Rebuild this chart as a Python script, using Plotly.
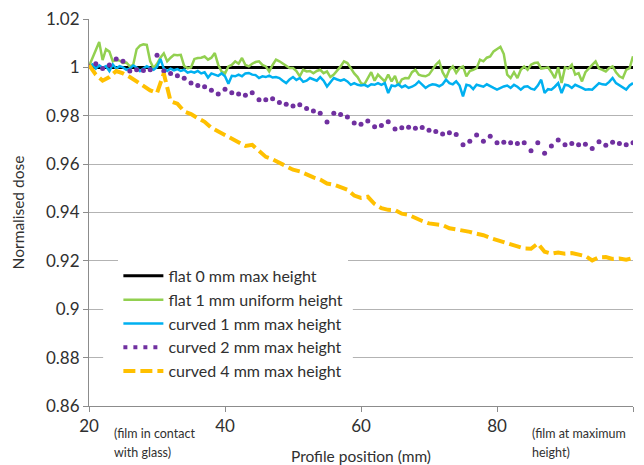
import plotly.graph_objects as go

# ---------------- data ----------------
x_half = [20 + 0.5 * i for i in range(161)]   # 20.0 .. 100.0 step 0.5
x_one = list(range(20, 101))                  # 20 .. 100 step 1

flat0 = [1.0] * 81

flat1 = [
    1.0005, 1.004, 1.007, 1.0105, 1.003, 1.0075, 1.0065, 1.0025, 1.003, 1.0028,
    1.0018, 1.002, 1.0004, 1.001, 1.0075, 1.009, 1.0095, 1.0093, 1.0025, 0.9997,
    1.0015, 1.004, 1.0058, 1.0025, 1.004, 1.0052, 1.005, 1.0052, 1.0005, 0.9997,
    1.0, 1.0035, 1.0039, 1.004, 1.0045, 1.0032, 1.004, 1.0059, 1.0011, 0.9983,
    0.9975, 1.0004, 1.001, 1.0025, 1.0015, 1.0039, 1.001, 1.0004, 1.0015, 1.0022,
    1.0025, 1.001, 1.0004, 0.9983, 1.001, 1.0032, 1.0025, 1.0015, 1.0004, 0.9997,
    0.9997, 0.9985, 0.9963, 0.999, 0.9983, 0.9985, 0.9976, 0.9985, 0.999, 0.9976,
    0.9983, 0.996, 0.997, 0.9985, 1.0004, 1.0025, 1.0018, 0.9997, 0.9975, 0.996,
    0.9935, 0.993, 0.9955, 0.998, 0.9945, 0.997, 0.9956, 0.9942, 0.997, 0.9942,
    0.9965, 0.9925, 0.995, 0.9956, 0.9955, 0.998, 0.999, 0.997, 0.9965, 0.9963,
    0.997, 0.999, 1.0011, 1.0025, 0.998, 0.9956, 0.999, 1.0004, 0.9977, 0.9997,
    1.0004, 0.9963, 0.9985, 0.999, 0.9997, 1.0032, 1.0025, 1.004, 1.0045, 1.0066,
    1.0075, 1.0085, 1.0055, 0.997, 0.9956, 0.998, 0.9956, 0.999, 1.0004, 0.999,
    1.0011, 1.0018, 1.002, 0.9995, 0.9997, 1.0, 0.998, 0.9956, 1.0, 0.9935,
    1.0, 0.9995, 1.0011, 0.997, 0.9976, 0.9942, 0.998, 0.9997, 1.001, 1.0025,
    0.9995, 0.999, 0.9983, 0.9997, 1.0004, 0.998, 0.9963, 0.9956, 0.999, 0.9997,
    1.0046,
]

curved1 = [
    1.0, 1.0012, 0.9995, 1.0008, 0.9998, 1.0005, 0.9985, 1.0012, 0.9995, 1.0005,
    1.0, 0.999, 0.9995, 1.0008, 1.0, 0.9985, 0.9995, 1.0005, 0.9997, 0.999,
    1.0002, 1.0035, 0.9995, 0.9985, 0.9995, 0.9988, 0.9993, 0.9985, 0.999, 0.9978,
    0.9983, 0.9978, 0.9985, 0.9975, 0.998, 0.9958, 0.9975, 0.997, 0.9965, 0.9975,
    0.9963, 0.9932, 0.9965, 0.9963, 0.997, 0.9963, 0.9975, 0.9977, 0.997, 0.9968,
    0.9956, 0.9963, 0.996, 0.9966, 0.9958, 0.996, 0.9956, 0.9945, 0.9935, 0.995,
    0.996, 0.9948, 0.9956, 0.994, 0.9945, 0.9956, 0.995, 0.9945, 0.996, 0.9945,
    0.9921, 0.994, 0.9956, 0.995, 0.9945, 0.995, 0.9942, 0.9928, 0.9935, 0.9928,
    0.9925, 0.9928, 0.9921, 0.993, 0.9928, 0.9935, 0.9928, 0.9935, 0.9894, 0.9925,
    0.9922, 0.993, 0.9918, 0.9925, 0.9915, 0.992, 0.9928, 0.9942, 0.993, 0.9915,
    0.9925, 0.993, 0.9928, 0.9922, 0.993, 0.9949, 0.9935, 0.993, 0.9942, 0.9925,
    0.988, 0.9928, 0.9925, 0.991, 0.9928, 0.9925, 0.992, 0.993, 0.9921, 0.9915,
    0.9908, 0.9915, 0.9921, 0.9925, 0.9915, 0.9928, 0.992, 0.9908, 0.992, 0.9922,
    0.9912, 0.9908, 0.9925, 0.9949, 0.9894, 0.991, 0.9908, 0.992, 0.9935, 0.9894,
    0.9928, 0.9925, 0.9915, 0.9928, 0.992, 0.9915, 0.9908, 0.991, 0.9908, 0.992,
    0.9935, 0.993, 0.9928, 0.994, 0.9956, 0.9935, 0.9925, 0.9915, 0.9908, 0.9925,
    0.9935,
]

curved2 = [
    1.0005, 1.0015, 0.9995, 1.001, 1.0035, 1.0025, 0.9985, 0.999, 0.9987, 0.999,
    1.005, 0.9985, 0.9975, 0.9965, 0.9955, 0.9935, 0.9925, 0.992, 0.9905, 0.989,
    0.991, 0.9895, 0.989, 0.9885, 0.9895, 0.9866, 0.9866, 0.987, 0.9855, 0.9848,
    0.984, 0.9845, 0.983, 0.982, 0.981, 0.9774, 0.981, 0.9805, 0.9795, 0.977,
    0.9765, 0.9778, 0.9755, 0.976, 0.9775, 0.9745, 0.975, 0.9752, 0.9748, 0.9751,
    0.974, 0.9735, 0.9725, 0.973, 0.9722, 0.968, 0.9695, 0.972, 0.9695, 0.9715,
    0.9688, 0.969, 0.9688, 0.9685, 0.9688, 0.9655, 0.9688, 0.9645, 0.9675, 0.970,
    0.968, 0.9685, 0.968, 0.9682, 0.9665, 0.9692, 0.9678, 0.969, 0.9685, 0.968,
    0.9688,
]

curved4 = [
    1.001, 0.997, 0.9945, 0.996, 0.9985, 0.9975, 0.996, 0.9942, 0.992, 0.9905,
    0.9894, 0.9975, 0.986, 0.985, 0.9818, 0.9807, 0.979, 0.9775, 0.975, 0.9735,
    0.9716, 0.9705, 0.969, 0.9675, 0.968, 0.9655, 0.963, 0.962, 0.9605, 0.959,
    0.9577, 0.957, 0.9557, 0.9545, 0.9536, 0.952, 0.9515, 0.9505, 0.9494, 0.947,
    0.946, 0.9465, 0.9435, 0.9418, 0.9411, 0.941, 0.9395, 0.939, 0.9376, 0.9365,
    0.9355, 0.9352, 0.9348, 0.9335, 0.933, 0.9327, 0.932, 0.9312, 0.9306, 0.9295,
    0.9286, 0.9275, 0.9265, 0.926, 0.9251, 0.925, 0.9272, 0.9238, 0.923, 0.9235,
    0.923, 0.9232, 0.9226, 0.922, 0.9202, 0.9215, 0.9216, 0.9208, 0.921, 0.9205,
    0.9212,
]

names = [
    "flat 0 mm max height",
    "flat 1 mm uniform height",
    "curved 1 mm max height",
    "curved 2 mm max height",
    "curved 4 mm max height",
]

y_tickvals = [0.86, 0.88, 0.9, 0.92, 0.94, 0.96, 0.98, 1.0, 1.02]
y_ticktext = ["0.86", "0.88", "0.9", "0.92", "0.94", "0.96", "0.98", "1", "1.02"]
x_tickvals = [20, 40, 60, 80, 100]
x_ticktext = ["20", "40", "60", "80", "100"]

note_left = ["(film in contact", "with glass)"]
note_right = ["(film at maximum", "height)"]

FONT = "Lato"
TXT = "#303030"

fig = go.Figure()

fig.add_trace(go.Scatter(x=x_one, y=flat0, mode="lines", name=names[0],
                         line=dict(color="black", width=3)))
fig.add_trace(go.Scatter(x=x_half, y=flat1, mode="lines", name=names[1],
                         line=dict(color="#92D050", width=2.5)))
fig.add_trace(go.Scatter(x=x_half, y=curved1, mode="lines", name=names[2],
                         line=dict(color="#00B0F0", width=2.5)))
fig.add_trace(go.Scatter(x=x_one, y=curved2, mode="markers", name=names[3],
                         showlegend=False,
                         marker=dict(color="#7030A0", size=5)))
fig.add_trace(go.Scatter(x=[None], y=[None], mode="lines", name=names[3],
                         line=dict(color="#7030A0", width=4, dash="4px,6px")))
fig.add_trace(go.Scatter(x=x_one, y=curved4, mode="lines", name=names[4],
                         line=dict(color="#FFC000", width=4, dash="12px,5px")))

annotations = []
for i, (t, yy) in enumerate(zip(note_left, [-0.07, -0.119])):
    annotations.append(dict(text=t, xref="paper", yref="paper", x=0.043, y=yy,
                            xanchor="left", yanchor="middle", showarrow=False,
                            font=dict(family=FONT, size=12.5, color=TXT)))
for i, (t, yy) in enumerate(zip(note_right, [-0.07, -0.119])):
    annotations.append(dict(text=t, xref="paper", yref="paper", x=0.81, y=yy,
                            xanchor="left", yanchor="middle", showarrow=False,
                            font=dict(family=FONT, size=12.5, color=TXT)))

fig.update_layout(
    width=644, height=465,
    margin=dict(l=89, r=11, t=19, b=59),
    paper_bgcolor="white", plot_bgcolor="white",
    font=dict(family=FONT, size=16, color=TXT),
    showlegend=True,
    legend=dict(
        x=0.054, y=0.38, xanchor="left", yanchor="top",
        bgcolor="white", borderwidth=0,
        font=dict(family=FONT, size=16, color=TXT),
        itemwidth=40, tracegroupgap=0,
    ),
    shapes=[
        dict(type="rect", xref="paper", yref="paper", layer="above",
             x0=0.026, x1=0.485, y0=0.05, y1=0.375,
             fillcolor="white", line=dict(width=0)),
    ],
    xaxis=dict(
        range=[20, 100], tickvals=x_tickvals, ticktext=x_ticktext,
        showgrid=False, zeroline=False, automargin=False,
        showline=True, linecolor="#8c8c8c", linewidth=1,
        ticks="outside", ticklen=5, tickcolor="#8c8c8c",
        tickfont=dict(family=FONT, size=17, color=TXT),
        title=dict(text="Profile position (mm)", standoff=19,
                   font=dict(family=FONT, size=15.5, color=TXT)),
    ),
    yaxis=dict(
        range=[0.86, 1.02], tickvals=y_tickvals, ticktext=y_ticktext,
        showgrid=True, gridcolor="#b3b3b3", gridwidth=1, zeroline=False,
        automargin=False,
        showline=True, linecolor="#8c8c8c", linewidth=1,
        ticks="outside", ticklen=5, tickcolor="#8c8c8c",
        tickfont=dict(family=FONT, size=17, color=TXT),
        title=dict(text="Normalised dose", standoff=17,
                   font=dict(family=FONT, size=15.5, color=TXT)),
    ),
    annotations=annotations,
)

fig.write_html("out.html")
